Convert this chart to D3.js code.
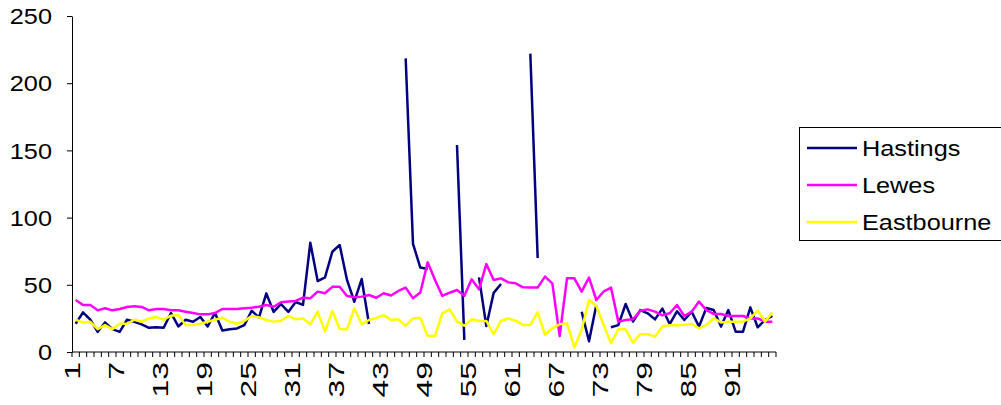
<!DOCTYPE html>
<html>
<head>
<meta charset="utf-8">
<script src="https://cdn.jsdelivr.net/npm/d3@7"></script>
<style>
  html, body { margin: 0; padding: 0; background: #fff; }
  svg { display: block; }
  text { font-family: Arial, "Liberation Sans", sans-serif; fill: #000; }
</style>
</head>
<body>
<svg id="chart" width="1001" height="405"></svg>
<script>
// ---- data ----
const categories = d3.range(1, 97).map(String);
const xTickLabels = ["1","7","13","19","25","31","37","43","49","55","61","67","73","79","85","91"];
const yTickValues = [0, 50, 100, 150, 200, 250];
const seriesNames = ["Hastings", "Lewes", "Eastbourne"];
const seriesColors = ["#000080", "#FF00FF", "#FFFF00"];

const hastings = [
  21, 29.5, 24, 15, 22, 17, 15, 24, 22.5, 20.5, 18, 18.5, 18, 29, 19, 24, 22.5, 26, 19, 29, 16, 17, 17.5, 20,
  30.7, 25.8, 43.6, 29.8, 35.7, 29.8, 37.2, 35, 81.3, 52.8, 55.5, 74.6, 79.6, 53.6, 37.4, 54.3, 20.8, null, null, null, null, 218.5, 80.4, 62.8,
  61.8, null, null, null, 154, 9, null, 55.5, 19.3, 44, 50.6, null, null, null, 222, 70, null, null, null, null, null, 30, 8, 35,
  null, 18.4, 20, 35.7, 22.6, 31.2, 28.8, 24.3, 32.3, 20.8, 30.3, 23.8, 30, 18.9, 32.7, 31.2, 18.9, 31.2, 15.1, 15.1, 33.2, 18.4, 23.8, 26.8
];
const lewes = [
  38.7, 35, 35, 31, 32.6, 31, 32, 33.5, 34, 33.5, 31, 32, 32, 31, 31, 30, 29, 28, 28, 29, 32, 32, 32, 32.5,
  33, 33.7, 35, 33.7, 37, 37.5, 38, 40.4, 40, 44.9, 43.7, 48.5, 48.5, 41.7, 40.7, 41.2, 42.4, 40.4, 43.7, 42, 45.4, 47.9, 40, 44.3,
  66.7, 53.6, 41.7, 44.1, 46.1, 41.9, 54.1, 46.6, 65.4, 53.6, 54.8, 51.8, 51.1, 48.1, 47.9, 47.9, 56.1, 51.1, 11.9, 54.8, 54.8, 44.9, 55.3, 38.7,
  45, 47.9, 22.6, 23.8, 24.3, 30.7, 31.7, 30, 27.3, 28.8, 35, 26.8, 30, 37.5, 31.2, 28.3, 28.3, 26.8, 26.8, 26.8, 25, 25, 22.6, 22.6
];
const eastbourne = [
  24, 22, 22.5, 17, 20, 17, 21, 21, 24, 22.5, 25, 26, 24, 27, 27.5, 20, 20, 21, 22.5, 24, 25.5, 22.5, 21, 23,
  26.8, 25.8, 23.8, 22.6, 23.3, 26.8, 24.3, 25, 20.6, 30, 15.1, 30.5, 17.1, 16.9, 32.5, 20.6, 23.8, 25.3, 27.5, 23.8, 24.3, 19.4, 25, 25.4,
  11.9, 11.9, 28.8, 31.7, 22.6, 19.6, 24.3, 23.1, 23.1, 13.2, 23.1, 25, 23.3, 20.1, 20.1, 29.5, 12.7, 17.7, 20.6, 21.3, 3.4, 16.4, 38.7, 34.2,
  20.1, 6.5, 16.9, 16.9, 7, 13.3, 13.3, 11.4, 18.9, 19.9, 19.9, 20.1, 20.8, 17.6, 20.1, 25, 22, 22.6, 22.6, 22.6, 25, 30.7, 22.6, 29.3
];

// ---- layout ----
const plot = { left: 72, right: 776, top: 16, bottom: 352 };
const fontSize = 22, stretch = 1.15, xLabelStretch = 1.45;

const svg = d3.select("#chart");
const x = d3.scaleBand().domain(categories).range([plot.left, plot.right]).padding(0);
const y = d3.scaleLinear().domain([0, 250]).range([plot.bottom, plot.top]);
const cx = c => x(c) + x.bandwidth() / 2;

// ---- y axis ----
const yAxis = svg.append("g")
  .attr("transform", `translate(${plot.left},0)`)
  .call(d3.axisLeft(y).tickValues(yTickValues).tickSize(5).tickSizeOuter(0).tickPadding(15));
yAxis.select(".domain").attr("stroke", "#000");
yAxis.selectAll(".tick line").attr("stroke", "#000");
yAxis.selectAll(".tick text")
  .attr("font-size", fontSize)
  .attr("font-family", "Arial, 'Liberation Sans', sans-serif")
  .attr("x", 0)
  .attr("dy", "0.35em")
  .attr("transform", `translate(-20,0) scale(${stretch},1)`);

// ---- x axis ----
const xAxis = svg.append("g").attr("transform", `translate(0,${plot.bottom})`);
xAxis.append("line")
  .attr("x1", plot.left).attr("x2", plot.right)
  .attr("y1", 0).attr("y2", 0).attr("stroke", "#000");
const tickPositions = categories.map(c => x(c)).concat([x.range()[1]]);
xAxis.selectAll("line.tk").data(tickPositions).join("line")
  .attr("class", "tk")
  .attr("x1", d => d).attr("x2", d => d)
  .attr("y1", 0).attr("y2", 5)
  .attr("stroke", "#000");
xAxis.selectAll("text.lbl").data(xTickLabels).join("text")
  .attr("class", "lbl")
  .attr("font-size", fontSize)
  .attr("text-anchor", "end")
  .attr("dy", "0.35em")
  .attr("transform", d => `translate(${cx(d) - 3},10) rotate(-90) scale(${xLabelStretch},1)`)
  .text(d => d);

// ---- lines ----
const seriesData = [hastings, lewes, eastbourne];
const line = d3.line()
  .defined(d => d.v != null)
  .x(d => cx(d.c))
  .y(d => y(d.v));

svg.append("g").selectAll("path").data(seriesData).join("path")
  .attr("fill", "none")
  .attr("stroke", (d, i) => seriesColors[i])
  .attr("stroke-width", 2.5)
  .attr("stroke-linejoin", "round")
  .attr("d", vals => line(vals.map((v, i) => ({ c: categories[i], v }))));

// ---- legend ----
const lg = svg.append("g");
lg.append("rect")
  .attr("x", 799.5).attr("y", 127.5)
  .attr("width", 220).attr("height", 113)
  .attr("fill", "#fff").attr("stroke", "#000");
const rows = lg.selectAll("g.row").data(seriesNames).join("g")
  .attr("class", "row")
  .attr("transform", (d, i) => `translate(0,${148 + i * 37})`);
rows.append("line")
  .attr("x1", 807).attr("x2", 857).attr("y1", 0).attr("y2", 0)
  .attr("stroke", (d, i) => seriesColors[i]).attr("stroke-width", 2.5);
rows.append("text")
  .attr("font-size", fontSize)
  .attr("dy", "0.35em")
  .attr("transform", `translate(862,0) scale(${stretch},1)`)
  .text(d => d);
</script>
</body>
</html>
